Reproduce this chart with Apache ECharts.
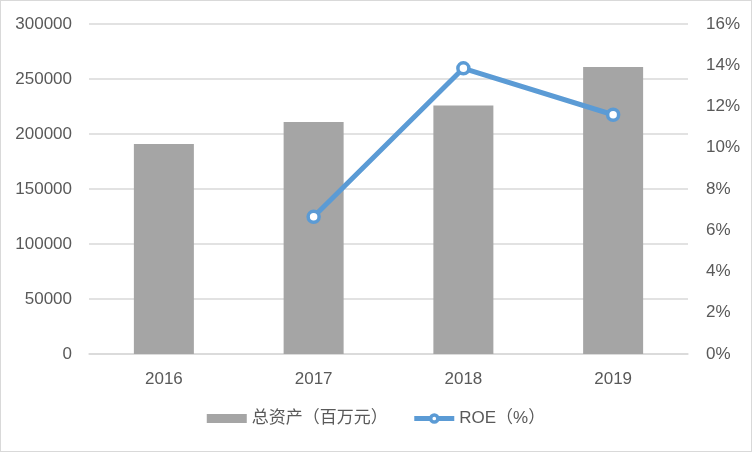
<!DOCTYPE html>
<html><head><meta charset="utf-8">
<script src="https://cdn.jsdelivr.net/npm/echarts@6/dist/echarts.min.js"></script>
<style>html,body{margin:0;padding:0;background:#fff}#c{width:750px;height:450px;border:1px solid #d9d9d9}</style>
</head><body><div id="c"></div>
<script>
const categories = ['2016','2017','2018','2019'];
const totalAssets = [191000, 211000, 226000, 261000];
const roe = [null, 6.65, 13.85, 11.6];
const seriesNames = ['总资产（百万元）','ROE（%）'];
const font = '"Liberation Sans","Noto Sans CJK SC",sans-serif';
const chart = echarts.init(document.getElementById('c'));
chart.setOption({
  animation:false,
  textStyle:{fontFamily:font},
  grid:{left:88,right:63,top:23,bottom:97},
  legend:{bottom:19,left:'center',itemGap:24,itemWidth:40,itemHeight:9,
    textStyle:{fontSize:17,color:'#595959',fontFamily:font},
    data:[{name:seriesNames[0],icon:'rect',itemStyle:{color:'#a5a5a5'}},
          {name:seriesNames[1],lineStyle:{width:5,color:'#5b9bd5'},
           itemStyle:{color:'#fff',borderColor:'#5b9bd5',borderWidth:3.5}}]},
  xAxis:{type:'category',data:categories,
    axisLine:{lineStyle:{color:'#d9d9d9',width:1.5}},axisTick:{show:false},
    axisLabel:{fontSize:17,color:'#595959',margin:17}},
  yAxis:[
    {type:'value',min:0,max:300000,interval:50000,
     axisLabel:{fontSize:17,color:'#595959',margin:17,formatter:function(v){return String(v);}},
     splitLine:{lineStyle:{color:'#d9d9d9',width:1.5}},axisLine:{show:false}},
    {type:'value',min:0,max:16,interval:2,position:'right',
     axisLabel:{fontSize:17,color:'#595959',margin:18,formatter:'{value}%'},
     splitLine:{show:false},axisLine:{show:false}}
  ],
  series:[
    {name:seriesNames[0],type:'bar',data:totalAssets,barWidth:60,
     itemStyle:{color:'#a5a5a5'}},
    {name:seriesNames[1],type:'line',yAxisIndex:1,data:roe,
     symbol:'circle',symbolSize:11,
     lineStyle:{color:'#5b9bd5',width:5},
     itemStyle:{color:'#fff',borderColor:'#5b9bd5',borderWidth:3.5}}
  ]
});
</script></body></html>
